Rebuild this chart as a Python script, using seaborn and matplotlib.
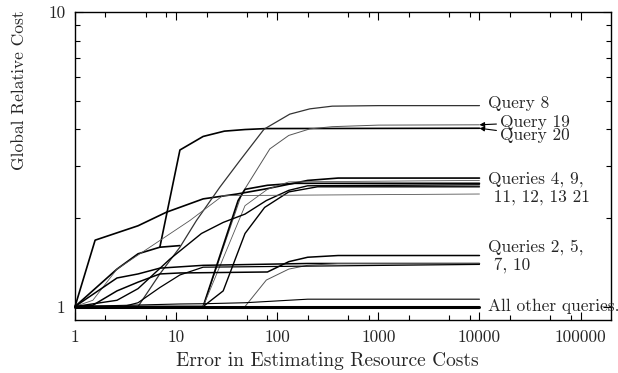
import numpy as np
import pandas as pd
import matplotlib
matplotlib.use("Agg")
import matplotlib.pyplot as plt
import seaborn as sns

# curves (x = estimation error, y = global relative cost)
x_a = [1, 1.58, 4.2, 8, 18.5, 40, 78, 200, 400, 10000]
y_a = [1, 1.68, 1.88, 2.09, 2.32, 2.41, 2.51, 2.68, 2.73, 2.73]

x_jump = [1, 2.6, 4.2, 6.9, 10.9, 18.5, 30, 48, 78, 10000]
y_jump = [1, 1.34, 1.51, 1.59, 3.4, 3.78, 3.94, 3.99, 4.02, 4.03]

x_stub = [6.9, 10.9]
y_stub = [1.59, 1.61]

x_q8 = [1, 4.2, 6.9, 10.9, 15.9, 27, 42.7, 74, 133, 210, 350, 1000, 10000]
y_q8 = [1, 1, 1.29, 1.59, 1.96, 2.54, 3.13, 4.0, 4.5, 4.69, 4.79, 4.81, 4.81]

x_q19 = [1, 18.5, 44.5, 84.5, 130, 210, 350, 1000, 10000]
y_q19 = [1, 1, 2.41, 3.43, 3.81, 4.01, 4.08, 4.13, 4.14]

x_d1 = [1, 18.5, 41, 48, 80, 150, 10000]
y_d1 = [1, 1, 2.29, 2.5, 2.58, 2.62, 2.62]

x_d2 = [1, 18.5, 29.2, 48, 75, 130, 250, 10000]
y_d2 = [1, 1, 1.13, 1.77, 2.17, 2.45, 2.55, 2.55]

x_d3 = [1, 18.5, 48, 80, 130, 10000]
y_d3 = [1, 1, 2.2, 2.5, 2.65, 2.68]

x_f = [1, 2.6, 4.2, 8.7, 17.8, 29.2, 48, 78, 130, 200, 10000]
y_f = [1, 1.05, 1.15, 1.45, 1.77, 1.93, 2.06, 2.29, 2.48, 2.57, 2.59]

x_l = [1, 1.5, 2.6, 13.7, 29, 10000]
y_l = [1, 1.05, 1.34, 1.96, 2.38, 2.41]

x_e1 = [1, 2.6, 4.2, 6.9, 18.5, 200, 10000]
y_e1 = [1, 1.25, 1.29, 1.35, 1.38, 1.40, 1.40]

x_e2 = [1, 1.5, 2.6, 4.2, 6.9, 10.9, 80, 130, 200, 400, 10000]
y_e2 = [1, 1.01, 1.13, 1.21, 1.29, 1.30, 1.31, 1.42, 1.47, 1.49, 1.49]

x_e3 = [1, 48, 78, 130, 200, 400, 10000]
y_e3 = [1, 1, 1.23, 1.34, 1.38, 1.40, 1.40]

x_e4 = [1, 3, 4.2, 6.9, 10.9, 18.5, 10000]
y_e4 = [1, 1, 1.03, 1.16, 1.28, 1.36, 1.39]

x_o1 = [1, 10.9, 18.5, 48, 200, 10000]
y_o1 = [1, 1.02, 1.022, 1.03, 1.059, 1.059]

x_base = [1, 10000]
y_base = [1, 1]

curves = [
    (x_a, y_a, "black", 1.2),
    (x_jump, y_jump, "black", 1.2),
    (x_stub, y_stub, "black", 1.2),
    (x_q8, y_q8, "#333333", 0.9),
    (x_q19, y_q19, "#555555", 0.7),
    (x_d1, y_d1, "black", 1.2),
    (x_d2, y_d2, "black", 1.0),
    (x_d3, y_d3, "#555555", 0.6),
    (x_f, y_f, "black", 1.0),
    (x_l, y_l, "#555555", 0.6),
    (x_e1, y_e1, "black", 1.1),
    (x_e2, y_e2, "black", 1.1),
    (x_e3, y_e3, "#555555", 0.7),
    (x_e4, y_e4, "black", 0.9),
    (x_o1, y_o1, "black", 0.8),
    (x_base, y_base, "black", 2.2),
]

sns.set_style("ticks")
plt.rcParams['font.family'] = ['cmr10', 'DejaVu Serif']
plt.rcParams['mathtext.fontset'] = 'cm'
plt.rcParams['axes.formatter.use_mathtext'] = True

fs = 12.5

fig, ax = plt.subplots(figsize=(6.18, 3.73), dpi=100)
fig.subplots_adjust(left=0.1214, right=0.9887, bottom=0.1421, top=0.9678)
ax.set_xscale('log')
ax.set_yscale('log')

for xs, ys, col, lw in curves:
    sns.lineplot(x=xs, y=ys, color=col, linewidth=lw, sort=False,
                 estimator=None, ax=ax, clip_on=False)

ax.set_xlim(1, 2e5)
ax.set_ylim(0.9, 10)

x_ticks = [1, 10, 100, 1000, 10000, 100000]
x_labels = ["1", "10", "100", "1000", "10000", "100000"]
ax.set_xticks(x_ticks, x_labels)
minor_x = [m * 10 ** d for d in range(0, 6) for m in (2, 5, 8)]
ax.set_xticks([v for v in minor_x if v < 2e5], minor=True)
ax.set_yticks([1, 10], ["1", "10"])
ax.set_yticks([m * 10 ** d for d in (0,) for m in range(2, 10)], minor=True)
ax.yaxis.set_minor_formatter(matplotlib.ticker.NullFormatter())
ax.xaxis.set_minor_formatter(matplotlib.ticker.NullFormatter())

ax.tick_params(which='both', direction='in', top=True, right=True,
               labelsize=fs, color='black', pad=7)
ax.tick_params(which='major', length=6, width=0.8)
ax.tick_params(which='minor', length=3.5, width=0.8)
for s in ax.spines.values():
    s.set_linewidth(1.0)
    s.set_color('black')

ax.set_xlabel("Error in Estimating Resource Costs", fontsize=14)
ax.set_ylabel("Global Relative Cost", fontsize=12.5)
ax.xaxis.set_label_coords(0.47, -0.104)
ax.yaxis.set_label_coords(-0.09, 0.747)

# labels at the right end of the curves
ax.text(12050, 4.89, "Query 8", fontsize=fs, va='center', ha='left')
ax.annotate("Query 19", xy=(10000, 4.14), xytext=(15850, 4.22), fontsize=fs,
            va='center', ha='left',
            arrowprops=dict(arrowstyle='-|>', color='black', lw=0.8,
                            shrinkA=0, shrinkB=0, mutation_scale=7))
ax.annotate("Query 20", xy=(10000, 4.03), xytext=(15850, 3.81), fontsize=fs,
            va='center', ha='left',
            arrowprops=dict(arrowstyle='-|>', color='black', lw=0.8,
                            shrinkA=0, shrinkB=0, mutation_scale=7))
ax.text(12050, 2.52, "Queries 4, 9,\n 11, 12, 13 21", fontsize=fs,
        va='center', ha='left', linespacing=1.15)
ax.text(12050, 1.48, "Queries 2, 5,\n 7, 10", fontsize=fs,
        va='center', ha='left', linespacing=1.15)
ax.text(12050, 1.0, "All other queries.", fontsize=fs, va='center', ha='left')

fig.savefig("out.png", dpi=100)
